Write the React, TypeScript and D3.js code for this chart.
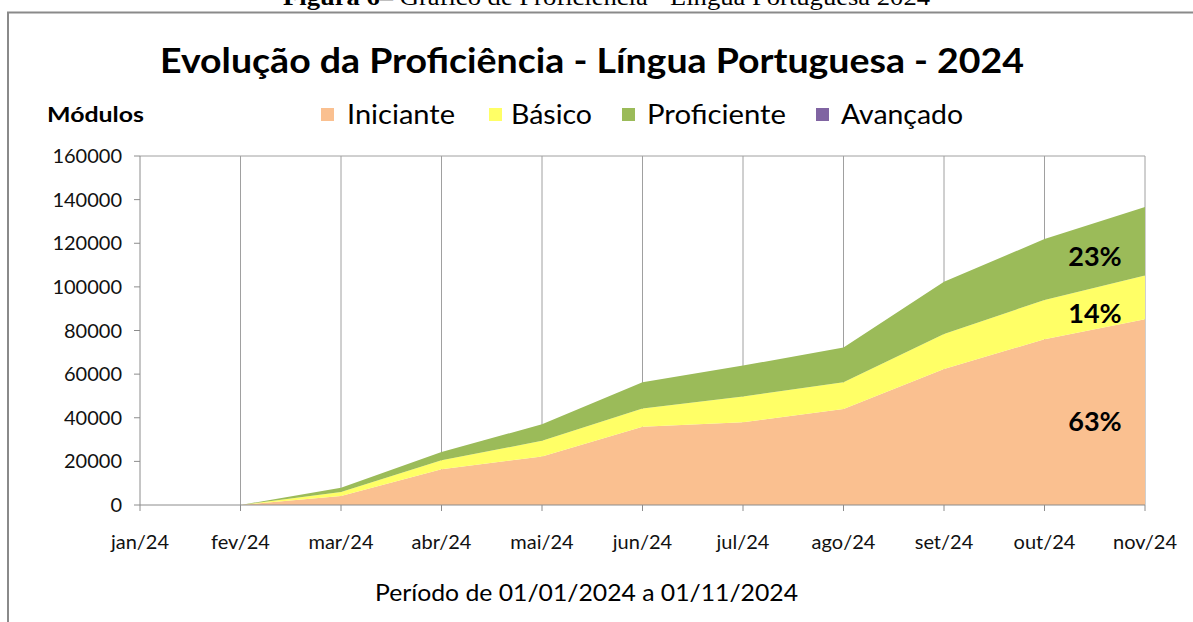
import React from 'react';
import { scalePoint, scaleLinear, stack, area } from 'd3';

const months = ['jan/24', 'fev/24', 'mar/24', 'abr/24', 'mai/24', 'jun/24', 'jul/24', 'ago/24', 'set/24', 'out/24', 'nov/24'];
const iniciante = [0, 0, 4100, 16400, 22200, 35900, 37900, 44000, 62400, 76000, 85200];
const basico = [0, 0, 1900, 4100, 7200, 8300, 11800, 12300, 16000, 18000, 20000];
const proficiente = [0, 0, 1900, 3800, 7600, 12100, 14200, 15900, 24000, 27900, 31400];
const avancado = [0, 0, 0, 0, 0, 0, 0, 0, 0, 0, 0];
const seriesNames = ['Iniciante', 'Básico', 'Proficiente', 'Avançado'];
const seriesColors = ['#FAC090', '#FFFF66', '#9BBB59', '#8064A2'];
const yTicks = [0, 20000, 40000, 60000, 80000, 100000, 120000, 140000, 160000];
const shareLabels = ['63%', '14%', '23%'];

const FONT = 'Lato, "Open Sans", sans-serif';

export default function App() {
  const margin = { left: 140, right: 1145, top: 156, bottom: 505 };

  const x = scalePoint<string>().domain(months).range([margin.left, margin.right]);
  const y = scaleLinear().domain([0, 160000]).range([margin.bottom, margin.top]);

  const table = months.map((m, i) => ({
    month: m,
    Iniciante: iniciante[i],
    'Básico': basico[i],
    Proficiente: proficiente[i],
    'Avançado': avancado[i]
  }));
  const layers = stack<any>().keys(seriesNames)(table);
  const areaGen = area<any>()
    .x(d => x(d.data.month) as number)
    .y0(d => y(d[0]))
    .y1(d => y(d[1]));

  // legend layout (square x, text x, text width)
  const legendItems = [
    { sx: 321, tx: 347, w: 108 },
    { sx: 489, tx: 511, w: 81 },
    { sx: 622, tx: 647, w: 139 },
    { sx: 816, tx: 841, w: 122 }
  ];

  // percentage labels at the last point, centred in each band
  const last = months.length - 1;
  const labelY = [431, 323, 266];

  return (
    <svg width={1193} height={622} style={{ position: 'absolute', left: 0, top: 0, background: '#fff' }}>
      {/* caption above the figure, cut off at the top as in the page */}
      <text x={283} y={5} fontFamily='"Liberation Serif", "Times New Roman", serif' fontSize={24} textLength={647} lengthAdjust="spacingAndGlyphs" fill="#000">
        <tspan fontWeight="bold">Figura 6</tspan>
        <tspan>– Gráfico de Proficiência - Língua Portuguesa 2024</tspan>
      </text>

      {/* frame */}
      <path d="M8,622 L8,12.5 L1193,12.5" fill="none" stroke="#8a8a8a" strokeWidth={2} />

      {/* title */}
      <text x={160} y={73} fontFamily={FONT} fontWeight="bold" fontSize={34} textLength={864} lengthAdjust="spacingAndGlyphs" fill="#000">
        Evolução da Proficiência - Língua Portuguesa - 2024
      </text>

      {/* y axis title */}
      <text x={47} y={122} fontFamily={FONT} fontWeight="bold" fontSize={20} textLength={97} lengthAdjust="spacingAndGlyphs" fill="#000">
        Módulos
      </text>

      {/* legend */}
      {seriesNames.map((name, i) => (
        <g key={name}>
          <rect x={legendItems[i].sx} y={108} width={13} height={13} fill={seriesColors[i]} />
          <text x={legendItems[i].tx} y={124} fontFamily={FONT} fontSize={26} textLength={legendItems[i].w} lengthAdjust="spacingAndGlyphs" fill="#000">
            {name}
          </text>
        </g>
      ))}

      {/* vertical gridlines */}
      {months.slice(1).map(m => (
        <line key={m} x1={x(m)} x2={x(m)} y1={margin.top} y2={margin.bottom} stroke="#a0a0a0" strokeWidth={1} />
      ))}
      <line x1={margin.left} x2={margin.right} y1={margin.top} y2={margin.top} stroke="#a0a0a0" strokeWidth={1} />

      {/* stacked areas */}
      {layers.map((layer, i) => (
        <path key={layer.key} d={areaGen(layer) || ''} fill={seriesColors[i]} />
      ))}

      {/* y axis */}
      <line x1={margin.left} x2={margin.left} y1={margin.top} y2={margin.bottom} stroke="#8c8c8c" strokeWidth={1} />
      {yTicks.map(t => (
        <g key={t}>
          <line x1={margin.left - 6} x2={margin.left} y1={y(t)} y2={y(t)} stroke="#8c8c8c" strokeWidth={1} />
          <text x={122} y={y(t)} dy="0.35em" textAnchor="end" fontFamily={FONT} fontSize={20} fill="#111">
            {t}
          </text>
        </g>
      ))}

      {/* x axis */}
      <line x1={margin.left} x2={margin.right} y1={margin.bottom} y2={margin.bottom} stroke="#8c8c8c" strokeWidth={1} />
      {months.map(m => (
        <g key={m}>
          <line x1={x(m)} x2={x(m)} y1={margin.bottom} y2={margin.bottom + 6} stroke="#8c8c8c" strokeWidth={1} />
          <text x={x(m)} y={549} textAnchor="middle" fontFamily={FONT} fontSize={20} fill="#111">
            {m}
          </text>
        </g>
      ))}

      {/* x axis title */}
      <text x={375} y={601} fontFamily={FONT} fontSize={24} textLength={423} lengthAdjust="spacingAndGlyphs" fill="#000">
        Período de 01/01/2024  a 01/11/2024
      </text>

      {/* share labels */}
      {shareLabels.map((s, i) => (
        <text key={s} x={(x(months[last]) as number) - 50} y={labelY[i]} textAnchor="middle" fontFamily={FONT} fontWeight="bold" fontSize={27} fill="#000">
          {s}
        </text>
      ))}
    </svg>
  );
}
